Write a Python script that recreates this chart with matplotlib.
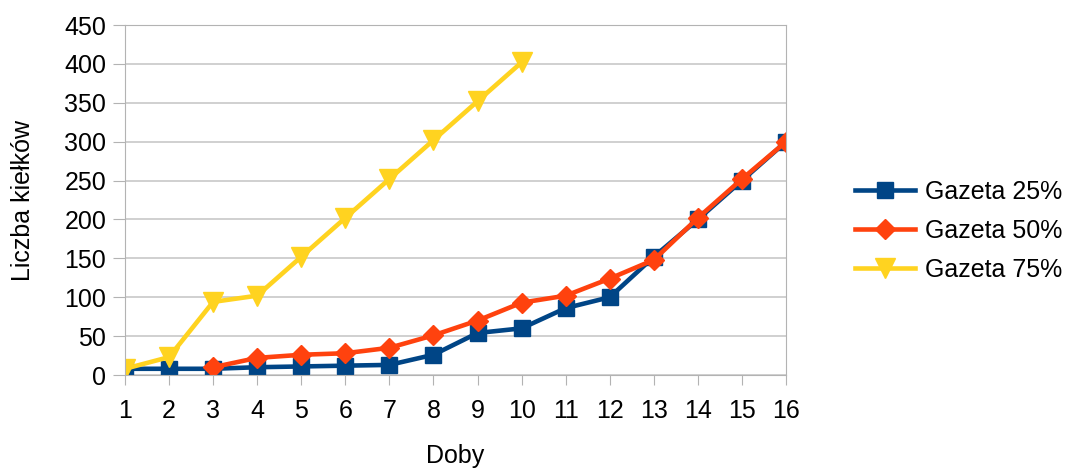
import matplotlib.pyplot as plt

plt.rcParams['font.family'] = ['Liberation Sans', 'DejaVu Sans']

doby = list(range(1, 17))
gazeta_25 = [8, 8, 8, 10, 11, 12, 13, 26, 54, 60, 86, 100, 152, 200, 250, 300]
doby_50 = list(range(3, 17))
gazeta_50 = [10, 22, 26, 28, 35, 51, 70, 93, 102, 124, 148, 202, 252, 300]
doby_75 = list(range(1, 11))
gazeta_75 = [8, 23, 94, 102, 152, 202, 252, 302, 352, 402]

fig = plt.figure(figsize=(10.68, 4.72), dpi=100)
ax = fig.add_axes([0.117, 0.2055, 0.619, 0.7415])

ax.plot(doby, gazeta_25, color='#004586', lw=3.3, marker='s', ms=12, label='Gazeta 25%')
ax.plot(doby_50, gazeta_50, color='#ff420e', lw=3.3, marker='D', ms=10, label='Gazeta 50%')
ax.plot(doby_75, gazeta_75, color='#ffd320', lw=3.3, marker='v', ms=14, label='Gazeta 75%')

ax.set_xlim(1, 16)
ax.set_ylim(0, 450)
ax.set_xticks(doby)
ax.set_yticks(range(0, 451, 50))
ax.yaxis.grid(True, color='#c8c8c8', lw=1.2)
ax.set_axisbelow(True)
for s in ax.spines.values():
    s.set_color('#b3b3b3')
ax.tick_params(axis='both', colors='#b3b3b3', labelcolor='black', labelsize=18)
ax.tick_params(axis='y', length=8.5, pad=5)
ax.tick_params(axis='x', length=7.2, pad=10)

ax.set_xlabel('Doby', fontsize=18, labelpad=15)
ax.set_ylabel('Liczba kiełków', fontsize=18, labelpad=21)

ax.legend(loc='center left', bbox_to_anchor=(1.104, 0.411), frameon=False,
          fontsize=18, handlelength=2.4, labelspacing=0.6, handletextpad=0.4,
          borderaxespad=0, borderpad=0)

fig.savefig('out.png', dpi=100)
